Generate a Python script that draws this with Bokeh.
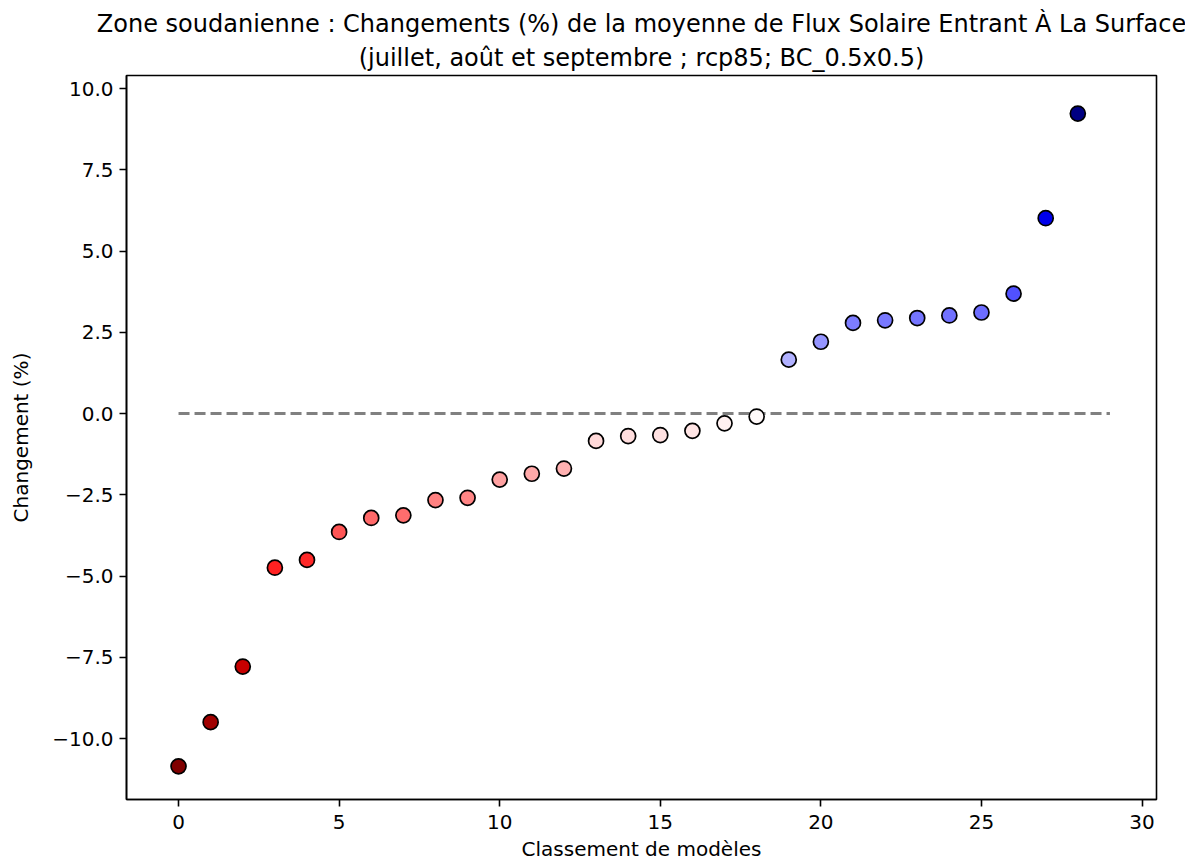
from bokeh.plotting import figure
from bokeh.models import (Title, FixedTicker, Range1d, LinearColorMapper,
                          ColumnDataSource)
from bokeh.embed import file_html
from bokeh.resources import INLINE

# ---- data ----
rank = list(range(29))
change = [-10.85, -9.49, -7.78, -4.74, -4.50, -3.64, -3.21, -3.13, -2.66,
          -2.59, -2.03, -1.85, -1.69, -0.84, -0.69, -0.66, -0.53, -0.30,
          -0.09, 1.66, 2.21, 2.79, 2.87, 2.94, 3.02, 3.11, 3.69, 6.01, 9.23]
x_ticks = [0, 5, 10, 15, 20, 25, 30]
y_ticks = [-10.0, -7.5, -5.0, -2.5, 0.0, 2.5, 5.0, 7.5, 10.0]
y_tick_labels = ["\u221210.0", "\u22127.5", "\u22125.0", "\u22122.5", "0.0",
                 "2.5", "5.0", "7.5", "10.0"]
title1 = "Zone soudanienne : Changements (%) de la moyenne de Flux Solaire Entrant \u00c0 La Surface"
title2 = "(juillet, ao\u00fbt et septembre ; rcp85; BC_0.5x0.5)"
xlabel = "Classement de mod\u00e8les"
ylabel = "Changement (%)"
zero_line_x = [0, 29.0]
zero_line_y = [0, 0]

# ---- seismic_r palette (style) ----
def seismic_r_palette(n=256):
    r_seg = [(0, 0), (0.25, 0), (0.5, 1), (0.75, 1), (1, 0.5)]
    g_seg = [(0, 0), (0.25, 0), (0.5, 1), (0.75, 0), (1, 0)]
    b_seg = [(0, 0.3), (0.25, 1), (0.5, 1), (0.75, 0), (1, 0)]

    def interp(seg, t):
        for (x0, v0), (x1, v1) in zip(seg[:-1], seg[1:]):
            if x0 <= t <= x1:
                return v0 + (v1 - v0) * (t - x0) / (x1 - x0)
        return seg[-1][1]
    pal = []
    for i in range(n):
        t = 1 - i / (n - 1)  # reversed
        r, g, b = interp(r_seg, t), interp(g_seg, t), interp(b_seg, t)
        pal.append("#%02x%02x%02x" % (round(r * 255), round(g * 255), round(b * 255)))
    return pal

vmax = max(abs(v) for v in change)
mapper = LinearColorMapper(palette=seismic_r_palette(), low=-vmax, high=vmax)

src = ColumnDataSource(dict(x=rank, y=change))

FONT = "DejaVu Sans"

p = figure(frame_width=1030, frame_height=724,
           x_range=Range1d(-1.62, 30.45), y_range=Range1d(-11.87, 10.40),
           output_backend="svg", toolbar_location=None,
           min_border_left=126, min_border_right=29, min_border_top=10,
           min_border_bottom=10)

p.add_layout(Title(text=title2, align="center", text_font=FONT,
                   text_font_size="24px", text_font_style="normal",
                   text_color="black", standoff=8, offset=0), "above")
p.add_layout(Title(text=title1, align="center", text_font=FONT,
                   text_font_size="24px", text_font_style="normal",
                   text_color="black", standoff=0, offset=0), "above")
# small empty spacer above the title block
p.add_layout(Title(text=" ", align="center", text_font=FONT,
                   text_font_size="4px", standoff=0, offset=0), "above")

p.grid.visible = False
p.background_fill_color = "white"
p.border_fill_color = "white"
p.outline_line_color = "black"
p.outline_line_width = 1.6

for ax in (p.xaxis[0], p.yaxis[0]):
    ax.axis_line_color = "black"
    ax.axis_line_width = 1.6
    ax.major_tick_line_color = "black"
    ax.major_tick_line_width = 1.6
    ax.major_tick_out = 7
    ax.major_tick_in = 0
    ax.minor_tick_line_color = None
    ax.major_label_text_font = FONT
    ax.major_label_text_font_size = "20px"
    ax.major_label_text_color = "black"
    ax.axis_label_text_font = FONT
    ax.axis_label_text_font_size = "20px"
    ax.axis_label_text_font_style = "normal"
    ax.axis_label_text_color = "black"

p.xaxis[0].ticker = FixedTicker(ticks=x_ticks)
p.yaxis[0].ticker = FixedTicker(ticks=y_ticks)
p.yaxis[0].major_label_overrides = {t: l for t, l in zip(y_ticks, y_tick_labels)}
p.xaxis[0].axis_label = xlabel
p.yaxis[0].axis_label = ylabel
p.xaxis[0].major_label_standoff = 8
p.yaxis[0].major_label_standoff = 6
p.xaxis[0].axis_label_standoff = 5
p.yaxis[0].axis_label_standoff = 16

p.line(zero_line_x, zero_line_y, line_color="gray", line_width=3,
       line_dash="11 5")

p.scatter("x", "y", source=src, size=15, marker="circle",
          fill_color={"field": "y", "transform": mapper},
          line_color="black", line_width=1.7)

open("out.html", "w").write(file_html(p, INLINE))
